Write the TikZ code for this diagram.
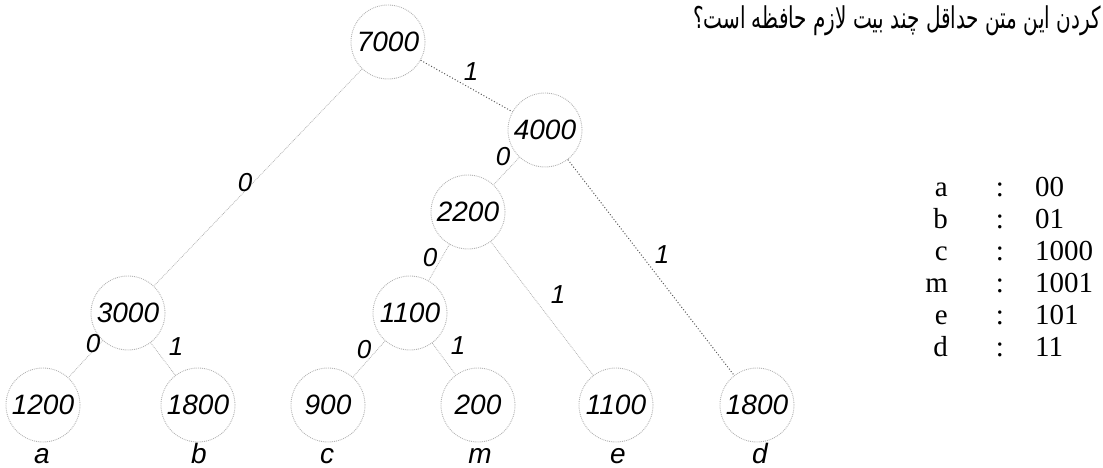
\documentclass[tikz,border=0pt]{standalone}
\usepackage{fontspec}
\setmainfont{Liberation Serif}
\newfontfamily\lsans{Liberation Sans}
\newfontfamily\arabicfont[Script=Arabic]{DejaVu Sans}
\TeXXeTstate=1
\begin{document}
\begin{tikzpicture}[x=1pt,y=-1pt,
  num/.style={circle, draw=gray!60, densely dotted, line width=0.9pt, minimum size=74pt, inner sep=0pt,
    font=\lsans\itshape\fontsize{28}{28}\selectfont},
  elab/.style={font=\lsans\itshape\fontsize{26}{26}\selectfont, inner sep=0pt},
  leaf/.style={font=\lsans\itshape\fontsize{28}{28}\selectfont, inner sep=0pt, anchor=base},
  lightedge/.style={draw=gray!60, densely dotted, line width=0.8pt},
  darkedge/.style={draw=black!65, dotted, line width=1pt},
  tab/.style={font=\fontsize{29}{29}\selectfont, inner sep=0pt, anchor=base}
]
\useasboundingbox (0,0) rectangle (1103,468);

% tree nodes
\node[num] (n7000) at (388,42) {7000};
\node[num] (n4000) at (545,130) {4000};
\node[num] (n2200) at (468,212) {2200};
\node[num] (n3000) at (128,313) {3000};
\node[num] (n1100) at (410,313) {1100};
\node[num] (la) at (43,405) {1200};
\node[num] (lb) at (198,405) {1800};
\node[num] (lc) at (328,405) {900};
\node[num] (lm) at (478,405) {200};
\node[num] (le) at (616,405) {1100};
\node[num] (ld) at (757,405) {1800};

% edges
\draw[lightedge] (n7000) -- (n3000);
\draw[darkedge] (n7000) -- (n4000);
\draw[lightedge] (n4000) -- (n2200);
\draw[darkedge] (n4000) -- (ld);
\draw[lightedge] (n2200) -- (n1100);
\draw[lightedge] (n2200) -- (le);
\draw[lightedge] (n3000) -- (la);
\draw[lightedge] (n3000) -- (lb);
\draw[lightedge] (n1100) -- (lc);
\draw[lightedge] (n1100) -- (lm);

% edge labels
\node[elab] (e1) at (471,72) {1};
\node[elab] (e2) at (245,183) {0};
\node[elab] (e3) at (503,157) {0};
\node[elab] (e4) at (662,255) {1};
\node[elab] (e5) at (430,258) {0};
\node[elab] (e6) at (558,295) {1};
\node[elab] (e7) at (93,344) {0};
\node[elab] (e8) at (176,347) {1};
\node[elab] (e9) at (364,350) {0};
\node[elab] (e10) at (458,346) {1};

% leaf letters
\node[leaf] (ta) at (42,463) {a};
\node[leaf] (tb) at (199,463) {b};
\node[leaf] (tc) at (327,463) {c};
\node[leaf] (tm) at (480,463) {m};
\node[leaf] (te) at (618,463) {e};
\node[leaf] (td) at (760,463) {d};

% code table
\foreach \l/\c/\y [count=\i] in {a/00/196, b/01/228, c/1000/260, m/1001/292, e/101/324, d/11/356}{
  \node[tab, anchor=base east] (tl\i) at (948,\y) {\l};
  \node[tab] (tc\i) at (1000,\y) {:};
  \node[tab, anchor=base west] (tv\i) at (1035,\y) {\c};
}

% Persian question text
\node[anchor=north east, inner sep=0pt] (q) at (1101,6)
  {\scalebox{1}[1.5]{\arabicfont\fontsize{20}{24}\selectfont\beginR کردن این متن حداقل چند بیت لازم حافظه است؟\endR}};
\end{tikzpicture}
\end{document}
